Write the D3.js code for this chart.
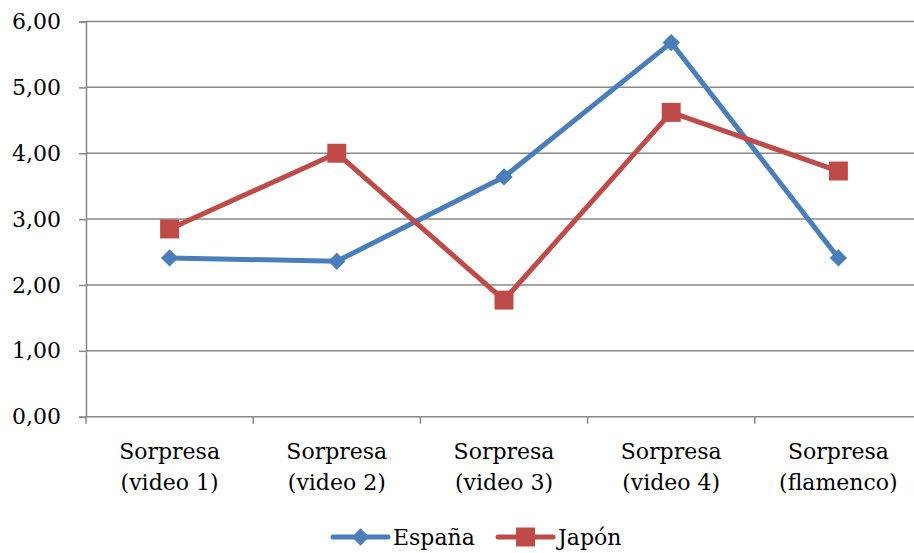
<!DOCTYPE html>
<html>
<head>
<meta charset="utf-8">
<script src="https://cdn.jsdelivr.net/npm/d3@7"></script>
<style>
  html, body { margin: 0; padding: 0; background: #fff; }
  svg { display: block; }
  text { font-family: "DejaVu Serif", "Liberation Serif", serif; fill: #000; }
</style>
</head>
<body>
<svg id="chart" width="914" height="553"></svg>
<script>
// Categories (two-line labels) and series values
const categories = [
  ["Sorpresa", "(video 1)"],
  ["Sorpresa", "(video 2)"],
  ["Sorpresa", "(video 3)"],
  ["Sorpresa", "(video 4)"],
  ["Sorpresa", "(flamenco)"]
];
const espana = [2.41, 2.36, 3.64, 5.68, 2.41];
const japon  = [2.85, 4.00, 1.77, 4.62, 3.73];
const yTicks = [0, 1, 2, 3, 4, 5, 6];
const seriesNames = ["España", "Japón"];
const seriesColors = ["#4A7EBB", "#BE4B48"];

const svg = d3.select("#chart");
const plotLeft = 86, plotRight = 922, plotTop = 21.5, plotBottom = 416.7;
const fontSize = 22;

const x = d3.scaleBand().domain(d3.range(categories.length)).range([plotLeft, plotRight]).padding(0);
const y = d3.scaleLinear().domain([0, 6]).range([plotBottom, plotTop]);
const fmt = v => d3.format(".2f")(v).replace(".", ",");

// Horizontal gridlines
svg.append("g").selectAll("line").data(yTicks.filter(d => d > 0)).join("line")
  .attr("x1", plotLeft).attr("x2", plotRight)
  .attr("y1", d => y(d)).attr("y2", d => y(d))
  .attr("stroke", "#888").attr("stroke-width", 1.5);

// Y axis
const yAxis = svg.append("g").attr("transform", `translate(${plotLeft},0)`)
  .call(d3.axisLeft(y).tickValues(yTicks).tickFormat(fmt).tickSize(7).tickPadding(18));
yAxis.select(".domain").attr("stroke", "#888").attr("stroke-width", 1.5);
yAxis.selectAll(".tick line").attr("stroke", "#888").attr("stroke-width", 1.5);
yAxis.selectAll(".tick text").attr("font-size", fontSize)
  .attr("font-family", "DejaVu Serif").attr("fill", "#000");

// X axis (ticks at category boundaries)
svg.append("line").attr("x1", plotLeft).attr("x2", plotRight).attr("y1", plotBottom).attr("y2", plotBottom)
  .attr("stroke", "#888").attr("stroke-width", 1.5);
svg.append("g").selectAll("line").data(d3.range(categories.length + 1)).join("line")
  .attr("x1", i => plotLeft + i * x.bandwidth()).attr("x2", i => plotLeft + i * x.bandwidth())
  .attr("y1", plotBottom).attr("y2", plotBottom + 7)
  .attr("stroke", "#888").attr("stroke-width", 1.5);

// Category labels
const cx = i => x(i) + x.bandwidth() / 2;
const lab = svg.append("g").selectAll("text").data(categories).join("text")
  .attr("text-anchor", "middle").attr("font-size", fontSize)
  .attr("x", (d, i) => cx(i)).attr("y", 459);
lab.selectAll("tspan").data(d => d).join("tspan")
  .attr("x", function() { return this.parentNode.getAttribute("x"); })
  .attr("dy", (d, j) => j === 0 ? 0 : 31)
  .text(d => d);

// Series lines and markers
const line = d3.line().x((d, i) => cx(i)).y(d => y(d));
const diamond = d3.symbol().type(d3.symbolDiamond2).size(190);
const square = d3.symbol().type(d3.symbolSquare).size(360);

function drawSeries(vals, color, sym) {
  svg.append("path").datum(vals).attr("d", line)
    .attr("fill", "none").attr("stroke", color).attr("stroke-width", 5)
    .attr("stroke-linejoin", "round");
  svg.append("g").selectAll("path").data(vals).join("path")
    .attr("d", sym).attr("transform", (d, i) => `translate(${cx(i)},${y(d)})`)
    .attr("fill", color);
}
drawSeries(espana, seriesColors[0], diamond);
drawSeries(japon, seriesColors[1], square);

// Legend
const legend = [
  { name: seriesNames[0], color: seriesColors[0], sym: diamond, x0: 333 },
  { name: seriesNames[1], color: seriesColors[1], sym: square, x0: 498 }
];
const ly = 537;
const lg = svg.append("g").selectAll("g").data(legend).join("g");
lg.append("line").attr("x1", d => d.x0).attr("x2", d => d.x0 + 55)
  .attr("y1", ly).attr("y2", ly).attr("stroke", d => d.color).attr("stroke-width", 5)
  .attr("stroke-linecap", "round");
lg.append("path").attr("d", d => d.sym()).attr("transform", d => `translate(${d.x0 + 27.5},${ly})`)
  .attr("fill", d => d.color);
lg.append("text").attr("x", d => d.x0 + 60).attr("y", ly + 8).attr("font-size", fontSize).text(d => d.name);
</script>
</body>
</html>
